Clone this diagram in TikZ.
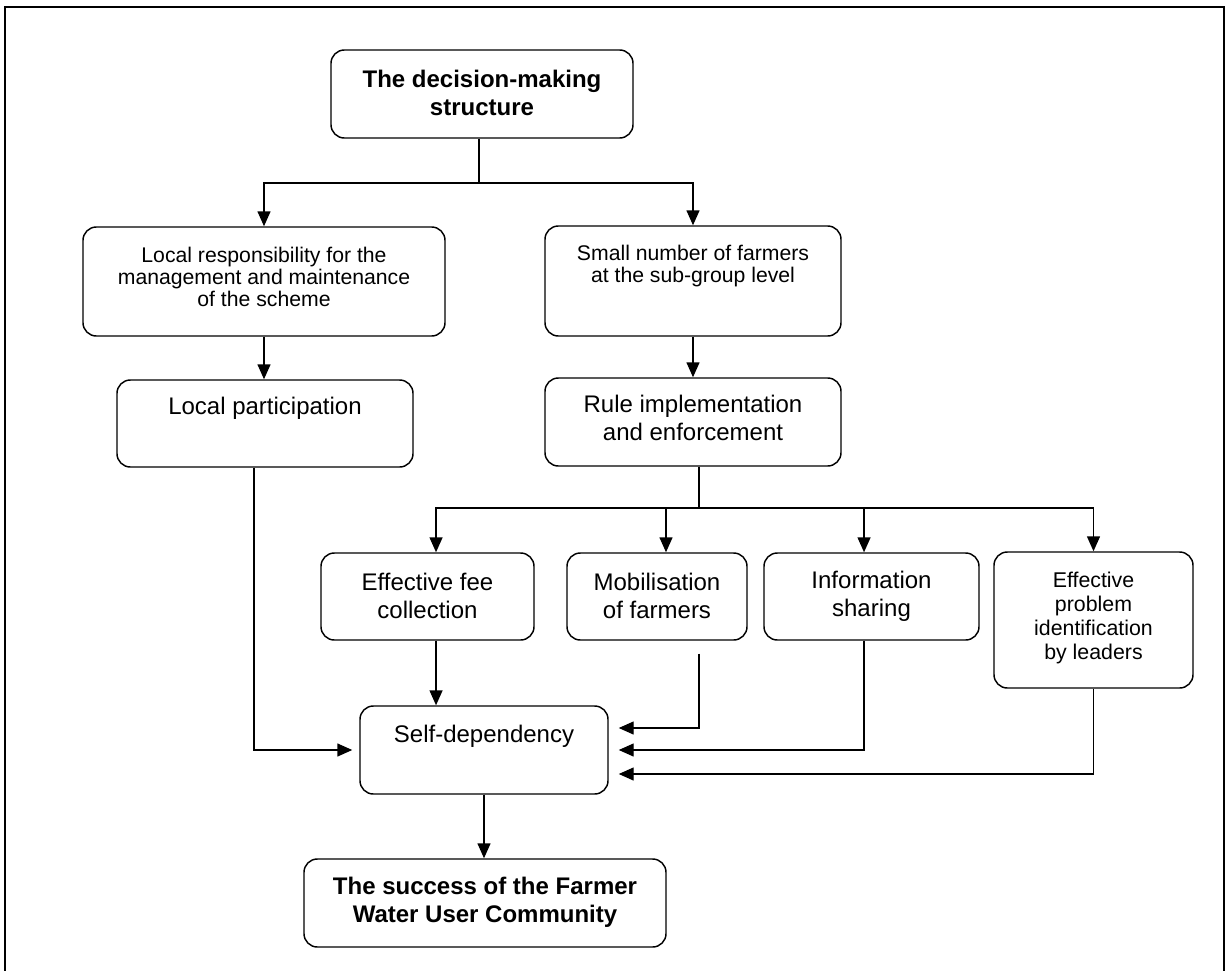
\documentclass[tikz,border=0pt]{standalone}
\usepackage{fontspec}
\setmainfont{Liberation Sans}
\usetikzlibrary{arrows.meta}

\tikzset{
  box/.style={draw, line width=1.1pt, rounded corners=10pt, inner sep=0pt},
  txt/.style={align=center, inner sep=0pt},
  regular/.style={font=\fontsize{18}{21}\selectfont},
  small/.style={font=\fontsize{15.9}{16.3}\selectfont},
  smallish/.style={font=\fontsize{16}{18}\selectfont},
  heading/.style={font=\fontsize{18}{21}\selectfont\bfseries},
  conn/.style={line width=1.1pt},
  arr/.style={conn, -{Triangle[length=11.25pt,width=9.75pt]}},
}

\newcommand\mkbox[5]{\node[box, minimum width=#4*0.75pt, minimum height=#5*0.75pt] (#1) at (#2,#3) {};}

\begin{document}
\begin{tikzpicture}[x=0.75pt, y=-0.75pt]
  \useasboundingbox (0,0) rectangle (1232,971);
  \fill[white] (0,0) rectangle (1232,971);

  % outer frame, open at the bottom
  \draw[line width=1.5pt] (5,971) -- (5,7) -- (1224,7) -- (1224,971);

  % boxes
  \mkbox{dec}{482}{94}{302}{88}
  \mkbox{resp}{264}{281.5}{362}{109}
  \mkbox{small}{693}{281}{296}{110}
  \mkbox{lp}{265}{423.5}{296}{87}
  \mkbox{rule}{693}{422}{296}{88}
  \mkbox{fee}{427.5}{596.5}{213}{87}
  \mkbox{mob}{657}{596.5}{180}{87}
  \mkbox{info}{871.5}{596.5}{215}{87}
  \mkbox{prob}{1093.5}{620}{199}{136}
  \mkbox{self}{484}{750}{248}{88}
  \mkbox{succ}{485}{903}{362}{88}

  % box texts
  \node[txt, heading] (dec-t) at (482,93) {The decision-making\\structure};
  \node[txt, small] (resp-t) at (264,277) {Local responsibility for the\\management and maintenance\\of the scheme};
  \node[txt, small] (small-t) at (693,266) {Small number of farmers\\at the sub-group level};
  \node[txt, regular] (lp-t) at (265,408) {Local participation};
  \node[txt, regular] (rule-t) at (693,418) {Rule implementation\\and enforcement};
  \node[txt, regular] (fee-t) at (427.5,596) {Effective fee\\collection};
  \node[txt, regular] (mob-t) at (657,596) {Mobilisation\\of farmers};
  \node[txt, regular] (info-t) at (871.5,596) {Information\\sharing};
  \node[txt, smallish] (prob-t) at (1093.5,618) {Effective\\problem\\identification\\by leaders};
  \node[txt, regular] (self-t) at (484,736) {Self-dependency};
  \node[txt, heading] (succ-t) at (485,902) {The success of the Farmer\\Water User Community};

  % top split
  \coordinate (j1) at (479,183);
  \draw[conn] (dec.south -| j1) -- (j1);
  \draw[arr] (j1) -| (resp.north);
  \draw[arr] (j1) -| (small.north);

  % left branch
  \draw[arr] (resp.south) -- (resp.south |- lp.north);
  \draw[arr, shorten >=5.25pt] ([xshift=-8.25pt]lp.south) |- (self.west);

  % right branch
  \draw[arr] (small.south) -- (rule.north);
  \coordinate (j2) at (699,508);
  \draw[conn] (rule.south -| j2) -- (j2);
  \draw[arr] (j2) -| ([xshift=6.4pt]fee.north);
  \draw[arr] (j2) -| ([xshift=6.75pt]mob.north);
  \draw[arr] (j2) -| ([xshift=-5.6pt]info.north);
  \draw[arr] (j2) -| (prob.north);

  % into self-dependency
  \draw[arr] ([xshift=6.4pt]fee.south) -- ([xshift=6.4pt]fee.south |- self.north);
  \draw[arr, shorten <=9.75pt, shorten >=7.5pt] ([xshift=31.5pt]mob.south) |- ([yshift=16.5pt]self.east);
  \draw[arr, shorten >=7.5pt] ([xshift=-5.6pt]info.south) |- (self.east);
  \draw[arr, shorten >=7.5pt] (prob.south) |- ([yshift=-18pt]self.east);

  % final outcome
  \draw[arr] (self.south) -- (self.south |- succ.north);
\end{tikzpicture}
\end{document}
